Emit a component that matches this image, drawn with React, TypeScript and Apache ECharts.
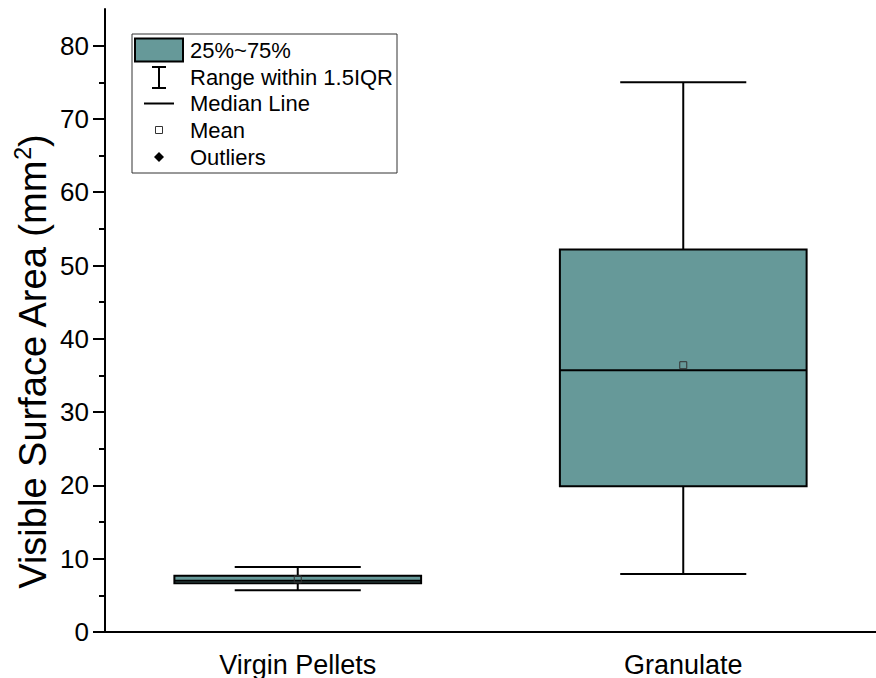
import React, { useEffect, useRef } from "react";
import * as echarts from "echarts";

const categories = ["Virgin Pellets", "Granulate"];
// [min whisker, Q1, median, Q3, max whisker]
const boxValues = [
  [5.7, 6.64, 7.0, 7.68, 8.87],
  [7.9, 19.9, 35.7, 52.2, 75.0],
];
const meanValues = [7.19, 36.4];
const majorTicks = [0, 10, 20, 30, 40, 50, 60, 70, 80];
const minorTicks = [5, 15, 25, 35, 45, 55, 65, 75];
const legendLabels = ["25%~75%", "Range within 1.5IQR", "Median Line", "Mean", "Outliers"];
const yTitle = "Visible Surface Area (mm{sup|2})";

const BOX_COLOR = "#669999";
const FONT = "'Liberation Sans', Arial, sans-serif";

export default function App() {
  const ref = useRef<HTMLDivElement>(null);
  useEffect(() => {
    if (!ref.current) return;
    const chart = echarts.init(ref.current, null, { renderer: "svg" });
    const data = categories.map((c, i) => [i, ...boxValues[i], meanValues[i]]);

    const legendX = 132;
    const legendY = 34;
    const rowY = [50, 77, 103.5, 130, 157];
    const iconX = 159;

    const option: any = {
      animation: false,
      textStyle: { fontFamily: FONT },
      grid: { left: 105, top: 9, right: -3, bottom: 46, containLabel: false },
      xAxis: [
        {
          type: "category",
          data: categories,
          boundaryGap: true,
          axisLine: { lineStyle: { color: "#000", width: 2 } },
          axisTick: { alignWithLabel: true, length: 11, lineStyle: { color: "#000", width: 2 } },
          axisLabel: { color: "#000", fontSize: 27, fontFamily: FONT, margin: 19 },
          splitLine: { show: false },
        },
        {
          type: "category",
          data: categories,
          position: "top",
          axisLine: { lineStyle: { color: "#000", width: 2 } },
          axisTick: { show: false },
          axisLabel: { show: false },
        },
      ],
      yAxis: [
        {
          type: "value",
          min: 0,
          max: 85,
          interval: 5,
          axisLine: { show: true, lineStyle: { color: "#000", width: 2 } },
          axisTick: { show: true, length: 12, customValues: majorTicks, lineStyle: { color: "#000", width: 2 } },
          axisLabel: { color: "#000", fontSize: 26, fontFamily: FONT, margin: 16, customValues: majorTicks },
          splitLine: { show: false },
        },
        {
          type: "value",
          min: 0,
          max: 85,
          interval: 5,
          position: "left",
          axisLine: { show: false },
          axisTick: { show: true, length: 6, customValues: minorTicks, lineStyle: { color: "#000", width: 2 } },
          axisLabel: { show: false },
          splitLine: { show: false },
        },
      ],
      series: [
        {
          type: "custom",
          xAxisIndex: 0,
          yAxisIndex: 0,
          data,
          encode: { x: 0, y: [1, 2, 3, 4, 5, 6] },
          renderItem: (params: any, api: any) => {
            const idx = api.value(0);
            const band = api.size([1, 0])[0];
            const bw = band * 0.64;
            const cw = band * 0.327;
            const pMin = api.coord([idx, api.value(1)]);
            const pQ1 = api.coord([idx, api.value(2)]);
            const pMed = api.coord([idx, api.value(3)]);
            const pQ3 = api.coord([idx, api.value(4)]);
            const pMax = api.coord([idx, api.value(5)]);
            const pMean = api.coord([idx, api.value(6)]);
            const cx = pMed[0];
            const ls = { stroke: "#000", lineWidth: 2 };
            return {
              type: "group",
              children: [
                { type: "line", shape: { x1: cx, y1: pMax[1], x2: cx, y2: pQ3[1] }, style: ls },
                { type: "line", shape: { x1: cx, y1: pMin[1], x2: cx, y2: pQ1[1] }, style: ls },
                { type: "line", shape: { x1: cx - cw / 2, y1: pMax[1], x2: cx + cw / 2, y2: pMax[1] }, style: ls },
                { type: "line", shape: { x1: cx - cw / 2, y1: pMin[1], x2: cx + cw / 2, y2: pMin[1] }, style: ls },
                {
                  type: "rect",
                  shape: { x: cx - bw / 2, y: pQ3[1], width: bw, height: pQ1[1] - pQ3[1] },
                  style: { fill: BOX_COLOR, stroke: "#000", lineWidth: 2 },
                },
                { type: "line", shape: { x1: cx - bw / 2, y1: pMed[1], x2: cx + bw / 2, y2: pMed[1] }, style: ls },
                {
                  type: "rect",
                  shape: { x: cx - 3.5, y: pMean[1] - 3.5, width: 7, height: 7 },
                  style: { fill: "none", stroke: "#333", lineWidth: 1 },
                },
              ],
            };
          },
        },
      ],
      graphic: [
        {
          type: "text",
          x: 33,
          y: 362,
          rotation: Math.PI / 2,
          style: {
            text: yTitle,
            fill: "#000",
            fontSize: 38,
            fontFamily: FONT,
            align: "center",
            verticalAlign: "middle",
            rich: {
              sup: { fontSize: 23, verticalAlign: "top", padding: [0, 0, 20, 0], fill: "#000", fontFamily: FONT },
            },
          },
        },
        {
          type: "rect",
          shape: { x: legendX, y: legendY, width: 265, height: 139 },
          style: { fill: "#fff", stroke: "#333", lineWidth: 1 },
        },
        {
          type: "rect",
          shape: { x: 135, y: 38.5, width: 48, height: 23 },
          style: { fill: BOX_COLOR, stroke: "#000", lineWidth: 2 },
        },
        { type: "line", shape: { x1: iconX, y1: 67, x2: iconX, y2: 88 }, style: { stroke: "#000", lineWidth: 2 } },
        { type: "line", shape: { x1: iconX - 7, y1: 67, x2: iconX + 7, y2: 67 }, style: { stroke: "#000", lineWidth: 2 } },
        { type: "line", shape: { x1: iconX - 7, y1: 88, x2: iconX + 7, y2: 88 }, style: { stroke: "#000", lineWidth: 2 } },
        { type: "line", shape: { x1: 144, y1: rowY[2], x2: 174, y2: rowY[2] }, style: { stroke: "#000", lineWidth: 2 } },
        {
          type: "rect",
          shape: { x: iconX - 3.5, y: rowY[3] - 3.5, width: 7, height: 7 },
          style: { fill: "#fff", stroke: "#333", lineWidth: 1 },
        },
        {
          type: "polygon",
          shape: { points: [[iconX, rowY[4] - 5], [iconX + 5, rowY[4]], [iconX, rowY[4] + 5], [iconX - 5, rowY[4]]] },
          style: { fill: "#000" },
        },
        ...legendLabels.map((t, i) => ({
          type: "text",
          x: 190,
          y: rowY[i],
          style: { text: t, fill: "#000", fontSize: 22, fontFamily: FONT, verticalAlign: "middle", align: "left" },
        })),
      ],
    };
    chart.setOption(option);
    return () => chart.dispose();
  }, []);
  return (
    <div
      ref={ref}
      style={{ position: "fixed", left: 0, top: 0, width: 876, height: 678, background: "#fff" }}
    />
  );
}
